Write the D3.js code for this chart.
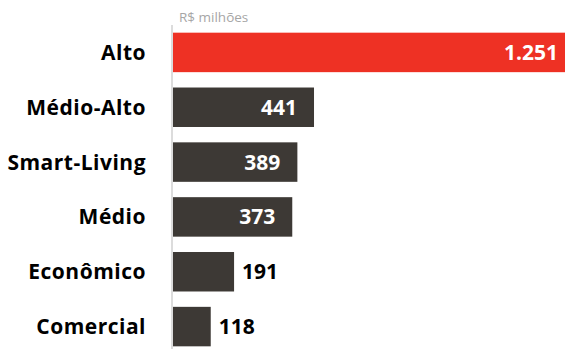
<!DOCTYPE html>
<html>
<head>
<meta charset="utf-8">
<script src="https://cdn.jsdelivr.net/npm/d3@7"></script>
<style>
  html, body { margin: 0; padding: 0; background: #fff; }
  svg { display: block; font-family: "Open Sans", "Noto Sans", sans-serif; }
</style>
</head>
<body>
<div id="chart"></div>
<script>
// ── data ──
const categories = ["Alto", "Médio-Alto", "Smart-Living", "Médio", "Econômico", "Comercial"];
const values     = [1251, 441, 389, 373, 191, 118];
const valueLabels = ["1.251", "441", "389", "373", "191", "118"];
const highlight  = "Alto";
const unitLabel  = "R$ milhões";

const W = 571, H = 349;
const COLOUR_HI  = "#ee3124";
const COLOUR_BAR = "#3d3935";

const data = categories.map((c, i) => ({ cat: c, value: values[i], label: valueLabels[i] }));

const svg = d3.select("#chart").append("svg")
  .attr("width", W).attr("height", H);

const x = d3.scaleLinear().domain([0, 1251]).range([173, 573]);
const y = d3.scaleBand().domain(categories).range([25, 354])
  .paddingInner(0.28).paddingOuter(0.14);

// plot is cropped on the right, like the source
svg.append("clipPath").attr("id", "plot-clip")
  .append("rect").attr("x", 0).attr("y", 0).attr("width", 565).attr("height", H);

// unit label
svg.append("text")
  .attr("x", 179).attr("y", 22)
  .attr("font-size", 13.5).attr("fill", "#a6a6a6")
  .text(unitLabel);

// bars
svg.append("g").attr("clip-path", "url(#plot-clip)")
  .selectAll("rect").data(data).join("rect")
  .attr("x", x(0))
  .attr("y", d => y(d.cat))
  .attr("width", d => x(d.value) - x(0))
  .attr("height", y.bandwidth())
  .attr("fill", d => d.cat === highlight ? COLOUR_HI : COLOUR_BAR);

// axis line
svg.append("line")
  .attr("x1", 172).attr("x2", 172)
  .attr("y1", 25).attr("y2", H)
  .attr("stroke", "#d0d0d0").attr("stroke-width", 1.5);

// category labels
svg.append("g").selectAll("text").data(data).join("text")
  .attr("x", 146)
  .attr("y", d => y(d.cat) + y.bandwidth() / 2)
  .attr("dy", "0.36em")
  .attr("text-anchor", "end")
  .attr("font-size", 21).attr("font-weight", "bold").attr("fill", "#000")
  .attr("letter-spacing", 0.5)
  .text(d => d.cat);

// value labels
const inside = d => d.value > 300;
svg.append("g").selectAll("text").data(data).join("text")
  .attr("x", d => inside(d) ? Math.min(x(d.value), 565) - (d.value > 1000 ? 7 : 17) : x(d.value) + 8)
  .attr("y", d => y(d.cat) + y.bandwidth() / 2)
  .attr("dy", "0.36em")
  .attr("text-anchor", d => inside(d) ? "end" : "start")
  .attr("font-size", 21).attr("font-weight", "bold")
  .attr("fill", d => inside(d) ? "#fff" : "#000")
  .text(d => d.label);
</script>
</body>
</html>
